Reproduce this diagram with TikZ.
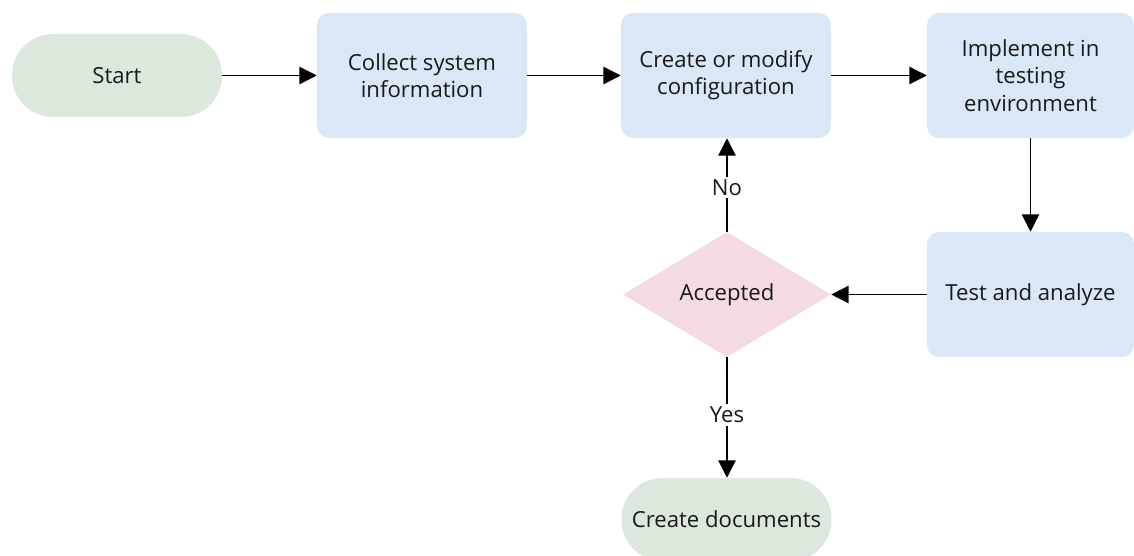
\documentclass[tikz,border=0pt]{standalone}
\usepackage{fontspec}
\setmainfont{Open Sans}
\usetikzlibrary{shapes.geometric,arrows.meta}
\definecolor{termfill}{RGB}{220,232,220}
\definecolor{procfill}{RGB}{218,231,246}
\definecolor{decfill}{RGB}{244,218,225}
\tikzset{
  base/.style={inner sep=2pt, align=center, font=\fontsize{16.6}{20.5}\selectfont, text=black!90},
  term/.style={base, fill=termfill, rounded corners=41pt*0.75, minimum width=210*0.75pt, minimum height=83*0.75pt},
  proc/.style={base, fill=procfill, rounded corners=9pt, minimum width=210*0.75pt, minimum height=125*0.75pt},
  dec/.style={base, diamond, fill=decfill, inner sep=0pt, minimum width=208*0.75pt, minimum height=125*0.75pt},
  conn/.style={line width=1pt, -{Triangle[length=13pt,width=13pt]}},
  lbl/.style={fill=white, inner sep=2pt, font=\fontsize{16.6}{20.5}\selectfont, text=black!90}
}
\begin{document}
\begin{tikzpicture}[x=0.75pt,y=-0.75pt]
\clip (0,0) rectangle (1134,556);
\useasboundingbox (0,0) rectangle (1134,556);
\node[term] (start) at (117,75.5) {Start};
\node[proc] (collect) at (422,75.5) {Collect system\\information};
\node[proc] (create) at (726,75.5) {Create or modify\\configuration};
\node[proc, minimum width=207*0.75pt] (impl) at (1030.5,75.5) {Implement in\\testing\\environment};
\node[proc, minimum width=207*0.75pt] (test) at (1030.5,294.5) {Test and analyze};
\node[dec] (acc) at (727,294.5) {Accepted};
\node[term] (docs) at (726.5,519.5) {Create documents};
\draw[conn] (start) -- (collect);
\draw[conn] (collect) -- (create);
\draw[conn] (create) -- (impl);
\draw[conn] (impl) -- (test);
\draw[conn] (test) -- (acc);
\draw[conn] (acc.north) -- node[lbl, pos=0.47] {No} (acc.north |- create.south);
\draw[conn] (acc.south) -- node[lbl, pos=0.48] {Yes} (acc.south |- docs.north);
\end{tikzpicture}
\end{document}
